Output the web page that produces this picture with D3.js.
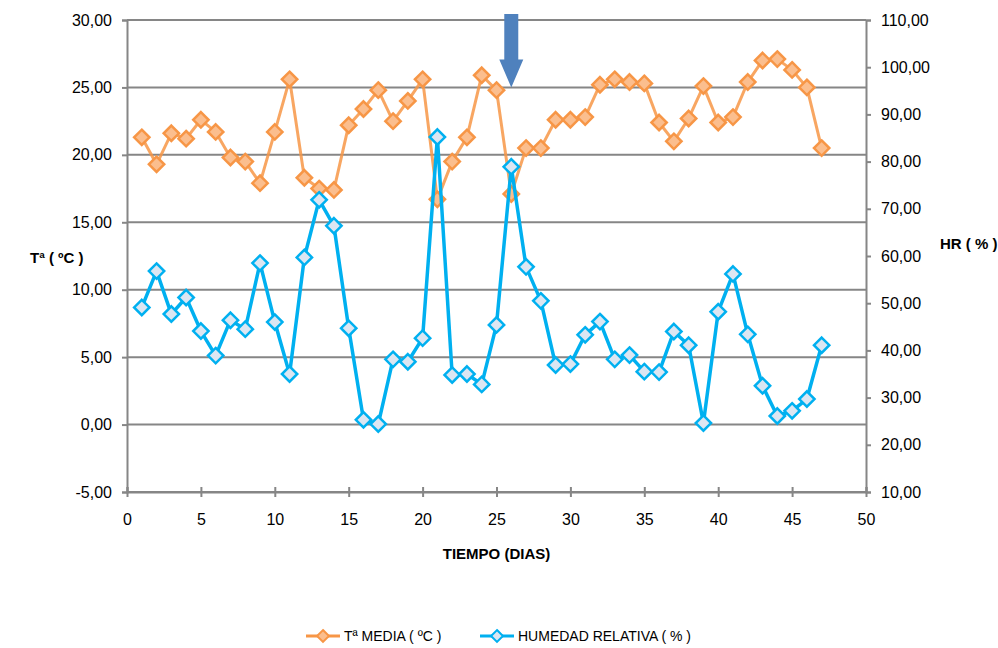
<!DOCTYPE html>
<html>
<head>
<meta charset="utf-8">
<script src="https://cdn.jsdelivr.net/npm/d3@7"></script>
<style>
  body { margin: 0; background: #fff; }
  svg text { font-family: "Liberation Sans Narrow", "Arial Narrow", sans-serif; fill: #000; }
</style>
</head>
<body>
<svg id="chart" width="998" height="648"></svg>
<script>
// dias de medicion
var dias = d3.range(1, 48);

// temperatura media (ºC) - eje izquierdo
var tempMedia = [21.3, 19.3, 21.6, 21.2, 22.6, 21.7, 19.8, 19.5, 17.9, 21.7,
  25.6, 18.3, 17.5, 17.4, 22.2, 23.4, 24.8, 22.5, 24.0, 25.6,
  16.7, 19.5, 21.3, 25.9, 24.8, 17.1, 20.5, 20.5, 22.6, 22.6,
  22.8, 25.2, 25.6, 25.4, 25.3, 22.4, 21.0, 22.7, 25.1, 22.4,
  22.8, 25.4, 27.0, 27.1, 26.3, 25.0, 20.5];

// humedad relativa (%) - eje derecho
var humedad = [49.1, 56.8, 47.7, 51.2, 44.1, 38.9, 46.4, 44.5, 58.5, 46.0,
  35.0, 59.7, 71.9, 66.4, 44.7, 25.3, 24.4, 38.1, 37.6, 42.6,
  85.2, 34.8, 35.0, 32.8, 45.4, 78.9, 57.7, 50.5, 36.9, 37.1,
  43.3, 46.1, 38.1, 39.0, 35.5, 35.4, 44.0, 41.1, 24.6, 48.2,
  56.2, 43.4, 32.5, 26.1, 27.2, 29.7, 41.1];

var xTicks = [0, 5, 10, 15, 20, 25, 30, 35, 40, 45, 50];
var yLeftTicks = [-5, 0, 5, 10, 15, 20, 25, 30];
var yRightTicks = [10, 20, 30, 40, 50, 60, 70, 80, 90, 100, 110];
var diaMarcado = 26;

var fmt = function(v) { return d3.format(".2f")(v).replace(".", ",").replace("\u2212", "-"); };

var svg = d3.select("#chart"),
  margin = {top: 20, right: 132, bottom: 156, left: 127},
  width = +svg.attr("width") - margin.left - margin.right,
  height = +svg.attr("height") - margin.top - margin.bottom,
  g = svg.append("g").attr("transform", "translate(" + margin.left + "," + margin.top + ")");

var x = d3.scaleLinear().domain([0, 50]).range([0, width]);
var yL = d3.scaleLinear().domain([-5, 30]).range([height, 0]);
var yR = d3.scaleLinear().domain([10, 110]).range([height, 0]);

var gray = "#868686";

// lineas de rejilla
g.selectAll(".grid")
  .data(yLeftTicks)
  .enter().append("line")
  .attr("x1", 0).attr("x2", width)
  .attr("y1", function(d) { return yL(d); })
  .attr("y2", function(d) { return yL(d); })
  .attr("stroke", gray).attr("stroke-width", 2);

// ejes
var axL = g.append("g")
  .call(d3.axisLeft(yL).tickValues(yLeftTicks).tickFormat(fmt).tickSize(5).tickPadding(10));
var axR = g.append("g")
  .attr("transform", "translate(" + width + ",0)")
  .call(d3.axisRight(yR).tickValues(yRightTicks).tickFormat(fmt).tickSize(5).tickPadding(10));
var axB = g.append("g")
  .attr("transform", "translate(0," + height + ")")
  .call(d3.axisBottom(x).tickValues(xTicks).tickSize(-5).tickPadding(22));

[axL, axR, axB].forEach(function(a) {
  a.selectAll("path").attr("stroke", gray).attr("stroke-width", 2);
  a.selectAll("line").attr("stroke", gray).attr("stroke-width", 2);
  a.selectAll("text").style("font-size", "16px").attr("fill", "#000");
});
axB.selectAll(".tick line").attr("y2", -5).clone().attr("y2", 5);

// titulos de ejes
svg.append("text").attr("x", 30).attr("y", 263)
  .style("font-size", "15px").style("font-weight", "bold").text("Tª ( ºC )");
svg.append("text").attr("x", 940).attr("y", 249)
  .style("font-size", "15px").style("font-weight", "bold").text("HR ( % )");
svg.append("text").attr("x", margin.left + width / 2).attr("y", 559)
  .attr("text-anchor", "middle")
  .style("font-size", "15px").style("font-weight", "bold").text("TIEMPO (DIAS)");

var diamond = d3.symbol().type(d3.symbolDiamond2).size(150);

var series = [
  {name: "Tª MEDIA ( ºC )", vals: tempMedia, y: yL, line: "#F79646", fill: "#FBBE8E", lw: 3, op: 0.85},
  {name: "HUMEDAD RELATIVA ( % )", vals: humedad, y: yR, line: "#00B0F0", fill: "#DCE6F2", lw: 3.5, op: 1}
];

series.forEach(function(s) {
  var line = d3.line()
    .x(function(d, i) { return x(dias[i]); })
    .y(function(d) { return s.y(d); });
  g.append("path").datum(s.vals)
    .attr("d", line)
    .attr("fill", "none")
    .attr("stroke", s.line)
    .attr("stroke-width", s.lw)
    .attr("stroke-opacity", s.op)
    .attr("stroke-linejoin", "round");
  g.selectAll(null).data(s.vals)
    .enter().append("path")
    .attr("d", diamond)
    .attr("transform", function(d, i) { return "translate(" + x(dias[i]) + "," + s.y(d) + ")"; })
    .attr("fill", s.fill)
    .attr("stroke", s.line)
    .attr("stroke-width", 2.5);
});

// flecha marcando el dia 26
var ax = x(diaMarcado), tipY = yL(25);
g.append("path")
  .attr("d", "M" + (ax - 7) + "," + (-6) + "L" + (ax + 7) + "," + (-6) +
    "L" + (ax + 7) + "," + (tipY - 28) + "L" + (ax + 12) + "," + (tipY - 28) +
    "L" + ax + "," + tipY + "L" + (ax - 12) + "," + (tipY - 28) +
    "L" + (ax - 7) + "," + (tipY - 28) + "Z")
  .attr("fill", "#4F81BD");

// leyenda
var legend = svg.selectAll(".legend")
  .data(series)
  .enter().append("g")
  .attr("transform", function(d, i) { return "translate(" + (i === 0 ? 306 : 480) + ",636)"; });
legend.append("line")
  .attr("x1", 0).attr("x2", 34)
  .attr("stroke", function(d) { return d.line; })
  .attr("stroke-width", 3);
legend.append("path")
  .attr("d", d3.symbol().type(d3.symbolDiamond2).size(90))
  .attr("transform", "translate(17,0)")
  .attr("fill", function(d) { return d.fill; })
  .attr("stroke", function(d) { return d.line; })
  .attr("stroke-width", 2);
legend.append("text")
  .attr("x", 38).attr("y", 5)
  .style("font-size", "14px")
  .text(function(d) { return d.name; });
</script>
</body>
</html>
